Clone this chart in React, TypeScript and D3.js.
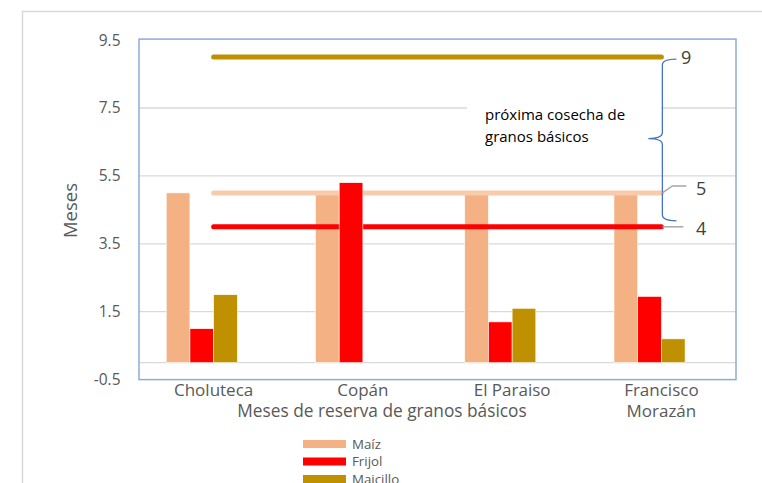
import React from "react";
import * as d3 from "d3";

const categories = ["Choluteca", "Copán", "El Paraiso", "Francisco Morazán"];
const seriesNames = ["Maíz", "Frijol", "Maicillo", ""];
const maiz = [5, 5, 5, 5];
const frijol = [1, 5.3, 1.2, 1.95];
const maicillo = [2, 0, 1.6, 0.7];
const nextMaicillo = [9, 9, 9, 9];
const nextMaiz = [5, 5, 5, 5];
const nextFrijol = [4, 4, 4, 4];
const yTicks = [-0.5, 1.5, 3.5, 5.5, 7.5, 9.5];
const annotation = ["próxima cosecha de", "granos básicos"];
const yTitle = "Meses";
const xTitle = "Meses de reserva de granos básicos";

const colors: Record<string, string> = {
  "Maíz": "#F4B183",
  "Frijol": "#FF0000",
  "Maicillo": "#BF9000",
};
const lineColors = { maicillo: "#BF9000", maiz: "#F8CBAD", frijol: "#FF0000" };

const W = 762;
const H = 483;
const FONT = "'Open Sans', sans-serif";

export default function App() {
  const left = 139, right = 736, top = 40.1, bottom = 379.6;
  const x = d3.scaleBand<string>().domain(categories).range([left, right]).padding(0);
  const bw = x.bandwidth();
  const groupW = bw * 0.635;
  const x1 = d3.scaleBand<string>().domain(seriesNames).range([(bw - groupW) / 2, (bw + groupW) / 2]);
  const y = d3.scaleLinear().domain([-0.5, 9.5]).range([bottom, top]);
  const cx = (c: string) => (x(c) as number) + bw / 2;

  const line = d3
    .line<number>()
    .x((_, i) => cx(categories[i]))
    .y((d) => y(d));

  const bars = (vals: number[], name: string) =>
    vals.map((v, i) => {
      if (v <= 0) return null;
      const bx = (x(categories[i]) as number) + (x1(name) as number);
      return (
        <rect
          key={name + i}
          x={bx}
          y={y(v)}
          width={x1.bandwidth()}
          height={y(0) - y(v)}
          fill={colors[name]}
          stroke="#fff"
          strokeWidth={0.6}
        />
      );
    });

  const lastX = cx(categories[categories.length - 1]);
  const yTop = y(nextMaicillo[3]);
  const yMid5 = y(nextMaiz[3]);
  const yLow = y(nextFrijol[3]);
  const braceX = lastX + 1;
  const braceTop = yTop + 2;
  const braceBot = yLow - 6;
  const braceMid = y(6.6);

  const bracePath = `M${braceX + 14},${braceTop} Q${braceX},${braceTop} ${braceX},${braceTop + 6}
    L${braceX},${braceMid - 6} Q${braceX},${braceMid} ${braceX - 14},${braceMid}
    Q${braceX},${braceMid} ${braceX},${braceMid + 6}
    L${braceX},${braceBot - 6} Q${braceX},${braceBot} ${braceX + 14},${braceBot}`;

  return (
    <svg width={W} height={H} style={{ position: "absolute", left: 0, top: 0, background: "#fff" }} fontFamily={FONT}>
      <rect x={0} y={0} width={W} height={H} fill="#fff" />
      {/* outer chart border */}
      <path d={`M22.5,${H} L22.5,11.5 L${W},11.5`} fill="none" stroke="#D9D9D9" strokeWidth={1.5} />

      {/* gridlines */}
      {yTicks.slice(1, -1).map((t) => (
        <line key={t} x1={left} x2={right} y1={y(t)} y2={y(t)} stroke="#D9D9D9" strokeWidth={1.3} />
      ))}
      <line x1={left} x2={right} y1={y(0)} y2={y(0)} stroke="#D9D9D9" strokeWidth={1.3} />

      {/* annotation box (covers gridline) */}
      <rect x={467} y={97} width={lastX - 467} height={50} fill="#fff" />

      {bars(maiz, "Maíz")}
      <path d={line(nextMaiz) || ""} fill="none" stroke={lineColors.maiz} strokeWidth={5} strokeLinecap="round" />
      <path d={line(nextFrijol) || ""} fill="none" stroke={lineColors.frijol} strokeWidth={5} strokeLinecap="round" />
      {bars(frijol, "Frijol")}
      {bars(maicillo, "Maicillo")}
      <path d={line(nextMaicillo) || ""} fill="none" stroke={lineColors.maicillo} strokeWidth={5} strokeLinecap="round" />

      {/* plot border */}
      <rect x={left} y={top - 1} width={right - left} height={bottom - top + 1} fill="none" stroke="#8FAADC" strokeWidth={1.5} />

      {/* y tick labels */}
      {yTicks.map((t) => (
        <text key={t} x={120.5} y={y(t)} dy="0.35em" textAnchor="end" fontSize={15.5} fill="#595959">
          {t}
        </text>
      ))}

      {/* category labels */}
      {categories.map((c) => {
        const parts = c === "Francisco Morazán" ? ["Francisco", "Morazán"] : [c];
        return parts.map((p, j) => (
          <text key={c + j} x={cx(c)} y={396 + j * 20.5} textAnchor="middle" fontSize={17} fill="#595959">
            {p}
          </text>
        ));
      })}

      {/* axis titles */}
      <text x={382} y={417} textAnchor="middle" fontSize={17.3} fill="#595959">
        {xTitle}
      </text>
      <text transform={`translate(77,210.5) rotate(-90)`} textAnchor="middle" fontSize={18.5} fill="#595959">
        {yTitle}
      </text>

      {/* annotation text */}
      {annotation.map((t, i) => (
        <text key={i} x={485} y={120 + i * 22} fontSize={15} fill="#000">
          {t}
        </text>
      ))}

      {/* brace */}
      <path d={bracePath} fill="none" stroke="#4472C4" strokeWidth={1.3} />

      {/* leader lines and value labels */}
      <path d={`M${lastX + 1},${yMid5} L${lastX + 11},${yMid5 - 7} L${lastX + 25},${yMid5 - 7}`} fill="none" stroke="#A6A6A6" strokeWidth={1.5} />
      <path d={`M${lastX + 1},${yLow} L${lastX + 22},${yLow}`} fill="none" stroke="#A6A6A6" strokeWidth={1.5} />
      <text x={681} y={yTop + 1} dy="0.35em" fontSize={18} fill="#404040">{nextMaicillo[3]}</text>
      <text x={696} y={yMid5 - 4} dy="0.35em" fontSize={18} fill="#404040">{nextMaiz[3]}</text>
      <text x={696} y={yLow + 2} dy="0.35em" fontSize={18} fill="#404040">{nextFrijol[3]}</text>

      {/* legend */}
      {["Maíz", "Frijol", "Maicillo"].map((s, i) => (
        <g key={s} transform={`translate(303,${440 + i * 17.5})`}>
          <rect x={0} y={0} width={43} height={8} fill={colors[s]} />
          <text x={49} y={4} dy="0.35em" fontSize={13.3} fill="#595959">
            {s}
          </text>
        </g>
      ))}
    </svg>
  );
}
